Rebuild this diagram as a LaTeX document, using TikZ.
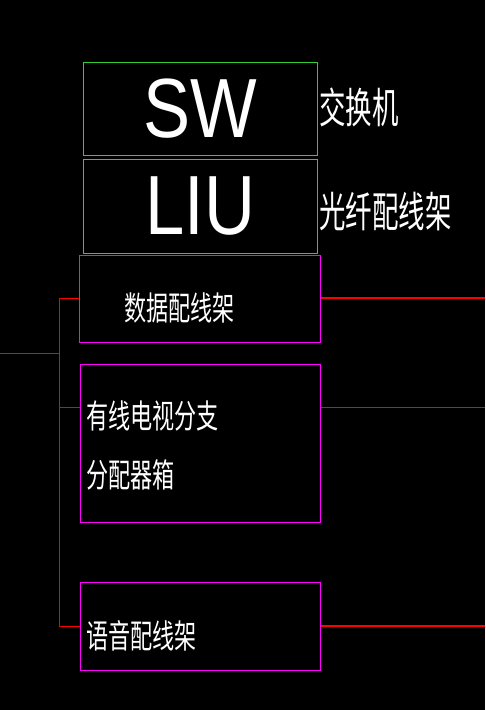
\documentclass[tikz,border=0pt]{standalone}
\usepackage{fontspec}
\setmainfont{Liberation Sans}
\newfontfamily\cjk{Noto Sans CJK SC}
\definecolor{cadgreen}{RGB}{50,205,50}
\definecolor{cadmag}{RGB}{255,0,255}
\definecolor{cadred}{RGB}{255,0,0}
\begin{document}
\begin{tikzpicture}[x=1pt,y=-1pt,
  gbox/.style={draw=cadgreen, line width=1pt, anchor=north west, inner sep=0pt, text=white,
    font=\fontsize{84}{84}\selectfont},
  mbox/.style={draw=cadmag, line width=1.2pt, anchor=north west, inner sep=0pt},
  wire/.style={draw=cadred, line width=1pt},
  wirethick/.style={draw=cadred, line width=1.8pt},
  bigcn/.style={text=white, inner sep=0pt, anchor=west, font=\cjk\fontsize{42}{42}\selectfont},
  smallcn/.style={text=white, inner sep=0pt, anchor=west, font=\cjk\fontsize{33}{33}\selectfont}]
\fill[black] (0,0) rectangle (485,710);
\useasboundingbox (0,0) rectangle (485,710);
% boxes
\node[gbox, minimum width=234pt, minimum height=93pt] (sw) at (83,62) {\scalebox{0.84}[1]{SW}};
\node[gbox, minimum width=234pt, minimum height=94pt] (liu) at (83,159) {\scalebox{0.84}[1]{LIU}};
\node[mbox, minimum width=241pt, minimum height=87pt] (data) at (79,255) {};
\node[mbox, minimum width=240pt, minimum height=158pt] (tv) at (80,364) {};
\node[mbox, minimum width=240pt, minimum height=88pt] (voice) at (80,582) {};
% labels
\node[bigcn] (swl) at (319,107) {\scalebox{0.63}[1]{交换机}};
\node[bigcn] (liul) at (319,212) {\scalebox{0.63}[1]{光纤配线架}};
\node[smallcn] (datal) at (124,308) {\scalebox{0.67}[1]{数据配线架}};
\node[smallcn] (tvl1) at (86,416) {\scalebox{0.67}[1]{有线电视分支}};
\node[smallcn] (tvl2) at (86,475) {\scalebox{0.67}[1]{分配器箱}};
\node[smallcn] (voicel) at (86,636) {\scalebox{0.67}[1]{语音配线架}};
% wiring coordinates
\coordinate (b1) at (59,298);
\coordinate (b2) at (59,407);
\coordinate (b3) at (59,626);
\coordinate (bin) at (59,353);
\coordinate (src) at (0,353);
\coordinate (o1) at (485,298);
\coordinate (o2) at (485,407);
\coordinate (o3) at (485,626);
% connectors
\draw[wire] (b1) -- (b3);
\draw[wire] (src) -- (bin);
\draw[wire] (b1) -- (data.west |- b1);
\draw[wire] (b2) -- (tv.west |- b2);
\draw[wire] (b3) -- (voice.west |- b3);
\draw[wirethick] (data.east |- o1) -- (o1);
\draw[wire] (tv.east |- o2) -- (o2);
\draw[wirethick] (voice.east |- o3) -- (o3);
\end{tikzpicture}
\end{document}
